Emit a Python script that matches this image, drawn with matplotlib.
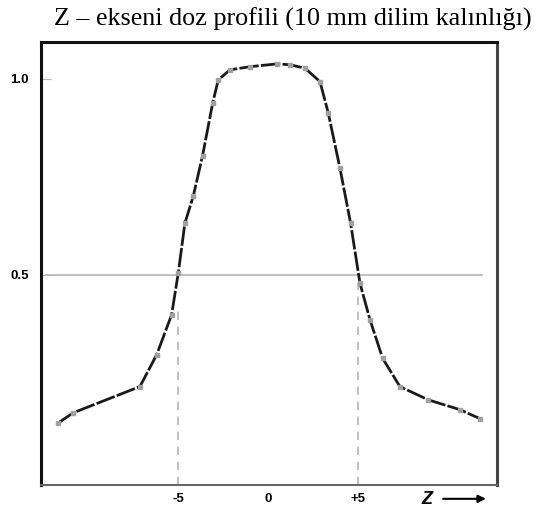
import matplotlib.pyplot as plt

# Z-ekseni doz profili (okunan noktalar)
z = [-11.65, -10.82, -7.11, -6.18, -5.35, -4.98, -4.61, -4.15, -3.63, -3.07,
     -2.76, -2.11, -1.0, 0.48, 1.22, 2.06, 2.89, 3.35, 4.0, 4.59,
     5.11, 5.67, 6.37, 7.33, 8.91, 10.67, 11.78]
doz = [0.122, 0.148, 0.215, 0.296, 0.398, 0.504, 0.632, 0.700, 0.804, 0.938,
       0.997, 1.023, 1.031, 1.038, 1.036, 1.027, 0.993, 0.913, 0.772, 0.632,
       0.479, 0.385, 0.287, 0.215, 0.181, 0.156, 0.133]
xticks = [-5, 0, 5]
xlabels = ['-5', '0', '+5']
yticks = [0.5, 1.0]
ylabels = ['0.5', '1.0']
title = "Z – ekseni doz profili (10 mm dilim kalınlığı)"

fig = plt.figure(figsize=(5.37, 5.09), dpi=100)
ax = fig.add_axes([0.0764, 0.0472, 0.8491, 0.8703])
ax.set_xlim(-12.6, 12.72)
ax.set_ylim(-0.036, 1.094)

# referans çizgileri
ax.plot([-12.35, 11.9], [0.5, 0.5], color='#b5b5b5', lw=1.2, zorder=1)
ax.plot([-5, -5], [-0.036, 0.41], color='#b5b5b5', lw=1.2, ls=(0, (5, 4)), zorder=1)
ax.plot([5, 5], [-0.036, 0.48], color='#b5b5b5', lw=1.2, ls=(0, (5, 4)), zorder=1)

ax.plot(z, doz, color='#1a1a1a', lw=2.0, ls=(0, (7, 0.8)), marker='s', ms=3.5,
        mfc='#a0a0a0', mec='#a0a0a0', zorder=3)

ax.set_xticks(xticks)
ax.set_xticklabels(xlabels, fontfamily='Liberation Sans', fontweight='bold', fontsize=9.5)
ax.set_yticks(yticks)
ax.set_yticklabels(ylabels, fontfamily='Liberation Sans', fontweight='bold', fontsize=9.5)
ax.tick_params(axis='x', length=0, pad=6)
ax.tick_params(axis='y', direction='in', length=7, color='#b5b5b5', pad=9)

for side in ['left', 'top']:
    ax.spines[side].set_linewidth(2.2)
    ax.spines[side].set_color('#111111')
ax.spines['right'].set_linewidth(2.2)
ax.spines['right'].set_color('#444444')
ax.spines['bottom'].set_linewidth(1.5)
ax.spines['bottom'].set_color('#666666')

fig.text(0.545, 0.962, title, ha='center', va='center', fontfamily='Liberation Serif', fontsize=18.8)
fig.text(0.795, 0.018, 'Z', ha='center', va='center', fontfamily='Liberation Sans',
         fontweight='bold', fontstyle='italic', fontsize=13)
ax.annotate('', xy=(0.91, 0.02), xytext=(0.82, 0.02), xycoords='figure fraction',
            arrowprops=dict(arrowstyle='-|>', color='black', lw=1.5, mutation_scale=11))

plt.savefig('out.png', dpi=100)
